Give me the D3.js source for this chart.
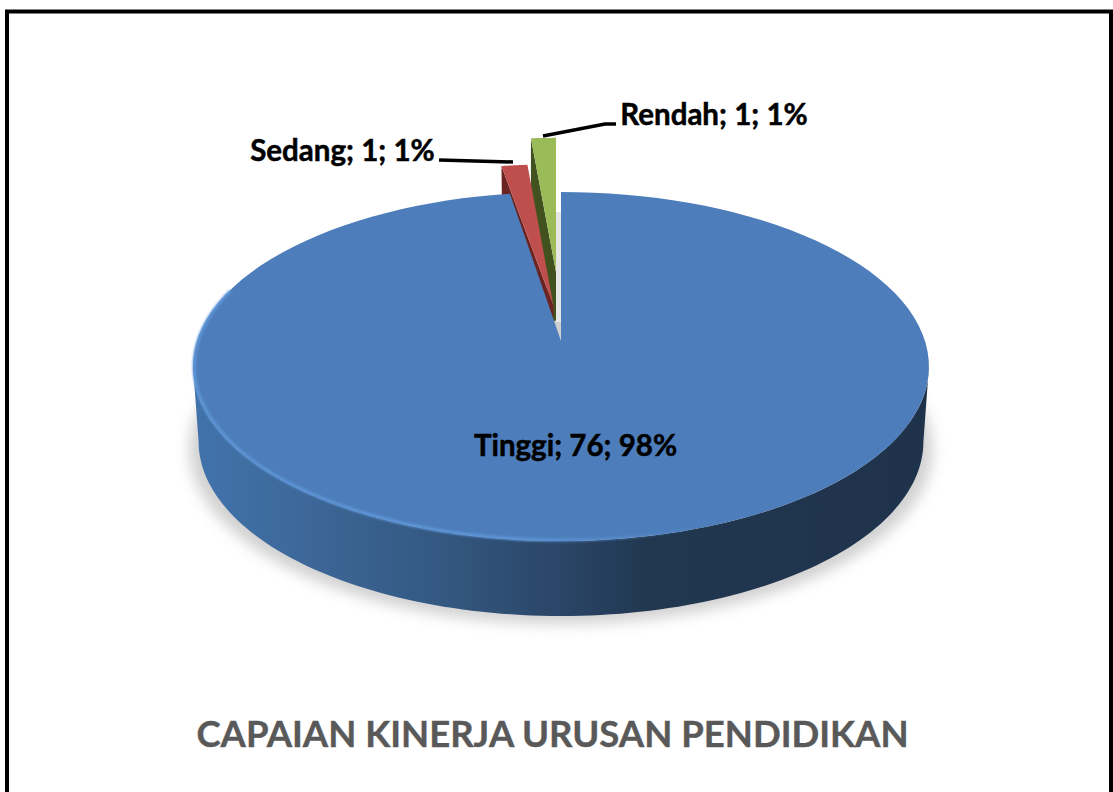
<!DOCTYPE html>
<html>
<head>
<meta charset="utf-8">
<script src="https://cdn.jsdelivr.net/npm/d3@7"></script>
<style>
    html, body { margin: 0; padding: 0; background: #fff; overflow: hidden; }
    text { font-family: Lato, "Open Sans", sans-serif; font-weight: 700; }
</style>
</head>
<body>
<div id="chart"></div>
<script>
const categories = ["Tinggi", "Sedang", "Rendah"];
const counts = [76, 1, 1];
const percents = [98, 1, 1];
const sliceColors = ["#4d7ebb", "#bf4f4c", "#9bbb59"];
const wallColors = ["#2d4b72", "#6b2422", "#41521f"];
const chartTitle = "CAPAIAN KINERJA URUSAN PENDIDIKAN";

const width = 1113;
const height = 792;

const svg = d3.select("#chart").append("svg")
    .attr("width", width)
    .attr("height", height);

const defs = svg.append("defs");

// Side wall, light at the left and dark towards the right
const wallGradient = defs.append("linearGradient")
    .attr("id", "wallGradient")
    .attr("gradientUnits", "userSpaceOnUse")
    .attr("x1", 192).attr("x2", 929).attr("y1", 0).attr("y2", 0);
[[0, "#4173ab"], [0.15, "#3d6899"], [0.35, "#33577f"], [0.5, "#2a4567"], [0.62, "#213750"], [1, "#1f324b"]]
    .forEach(s => wallGradient.append("stop").attr("offset", s[0]).attr("stop-color", s[1]));

// Rim highlight fades out past the front of the pie
const rimGradient = defs.append("linearGradient")
    .attr("id", "rimGradient")
    .attr("gradientUnits", "userSpaceOnUse")
    .attr("x1", 192).attr("x2", 700).attr("y1", 0).attr("y2", 0);
[[0, "#5d95d8", 1], [0.65, "#5f97da", 1], [1, "#5f97da", 0]]
    .forEach(s => rimGradient.append("stop").attr("offset", s[0]).attr("stop-color", s[1]).attr("stop-opacity", s[2]));

defs.append("filter").attr("id", "shadowBlur")
    .attr("x", "-10%").attr("y", "-10%").attr("width", "120%").attr("height", "120%")
    .append("feGaussianBlur").attr("stdDeviation", 7);
defs.append("filter").attr("id", "rimBlur")
    .append("feGaussianBlur").attr("stdDeviation", 0.8);

const pie = d3.pie().sort(null).startAngle(0).endAngle(2 * Math.PI);
const slices = pie(counts);

// Perspective projection of the tilted disc: the far side is squeezed
const tilt = 0.146;
const project = (angle, o) => {
    const u = Math.sin(angle);
    const v = Math.cos(angle);
    const w = 1 + tilt * v;
    return [o.x + o.sx * 364 * u / w, o.y - o.sy * 170.8 * v / w];
};
const arcPoints = (a0, a1, o) => d3.range(0, 121).map(i => project(a0 + (a1 - a0) * i / 120, o));
const line = d3.line();

const blue = { x: 561, y: 341, sx: 1, sy: 1 };
const blueBottom = { x: 561, y: 416, sx: 0.985, sy: 1 };
const red = { x: 553.5, y: 306, sx: 1.02, sy: 0.95 };
const green = { x: 556, y: 272, sx: 0.98, sy: 0.9 };

const silhouette = Math.acos(-tilt);

// Shadow under the pie
svg.append("path")
    .attr("d", line(arcPoints(0, 2 * Math.PI, { x: 561, y: 424, sx: 1.01, sy: 1 })) + "Z")
    .attr("fill", "#8c8c8c")
    .attr("opacity", 0.4)
    .attr("filter", "url(#shadowBlur)");

// Shadow of the pulled-out slices in the slit
svg.append("path")
    .attr("d", line([[556, 212], [561.5, 212], [561.5, 322], [556, 322]]) + "Z")
    .attr("fill", "#e6e6e6");

// Rendah: inner wall, then top face
const greenCorner = project(slices[2].startAngle, green);
svg.append("path")
    .attr("d", line([
        greenCorner,
        [green.x, green.y], [556, 320], [553.5, 322], [greenCorner[0], 195]
    ]) + "Z")
    .attr("fill", wallColors[2]);
svg.append("path")
    .attr("d", line([[green.x, green.y], ...arcPoints(slices[2].startAngle, slices[2].endAngle, green)]) + "Z")
    .attr("fill", sliceColors[2]);

// Sedang: inner wall, then top face
svg.append("path")
    .attr("d", line([
        project(slices[1].startAngle, red),
        [502, 205], [553, 325], [red.x, red.y]
    ]) + "Z")
    .attr("fill", wallColors[1]);
svg.append("path")
    .attr("d", line([[red.x, red.y], ...arcPoints(slices[1].startAngle, slices[1].endAngle, red)]) + "Z")
    .attr("fill", sliceColors[1]);

// Tinggi: outer wall, top face, rim
svg.append("path")
    .attr("d", line([
        ...arcPoints(silhouette, 2 * Math.PI - silhouette, blue),
        ...arcPoints(2 * Math.PI - silhouette, silhouette, blueBottom)
    ]) + "Z")
    .attr("fill", "url(#wallGradient)");
svg.append("path")
    .attr("d", line([[blue.x, blue.y], ...arcPoints(slices[0].startAngle, slices[0].endAngle, blue)]) + "Z")
    .attr("fill", sliceColors[0]);
svg.append("path")
    .attr("d", line(arcPoints(Math.PI * 0.75, Math.PI * 1.6, { ...blue, sx: 0.997, sy: 0.996 })))
    .attr("fill", "none")
    .attr("stroke", "url(#rimGradient)")
    .attr("stroke-width", 3)
    .attr("filter", "url(#rimBlur)");

// Leader lines
svg.append("path")
    .attr("d", line([[439, 160], [513, 162]]))
    .attr("fill", "none").attr("stroke", "#000").attr("stroke-width", 3.5);
svg.append("path")
    .attr("d", line([[543, 136], [605, 124], [616, 124]]))
    .attr("fill", "none").attr("stroke", "#000").attr("stroke-width", 3.5);

// Data labels
const labelPos = [[575.5, 456], [342.5, 161], [714, 125]];
svg.selectAll("text.label")
    .data(categories)
    .join("text")
    .attr("class", "label")
    .attr("x", (d, i) => labelPos[i][0])
    .attr("y", (d, i) => labelPos[i][1])
    .attr("text-anchor", "middle")
    .attr("font-size", 29.5)
    .attr("fill", "#000")
    .attr("stroke", "#000")
    .attr("stroke-width", 0.5)
    .text((d, i) => `${d}; ${counts[i]}; ${percents[i]}%`);

// Title
svg.append("text")
    .attr("x", 552.5)
    .attr("y", 747)
    .attr("text-anchor", "middle")
    .attr("font-size", 36.5)
    .attr("fill", "#595959")
    .attr("stroke", "#595959")
    .attr("stroke-width", 0.4)
    .text(chartTitle);

// Slide frame, runs off the bottom of the picture
svg.append("path")
    .attr("d", line([[7, height], [7, 11.5], [1111, 11.5], [1111, height]]))
    .attr("fill", "none").attr("stroke", "#000").attr("stroke-width", 4);
</script>
</body>
</html>
